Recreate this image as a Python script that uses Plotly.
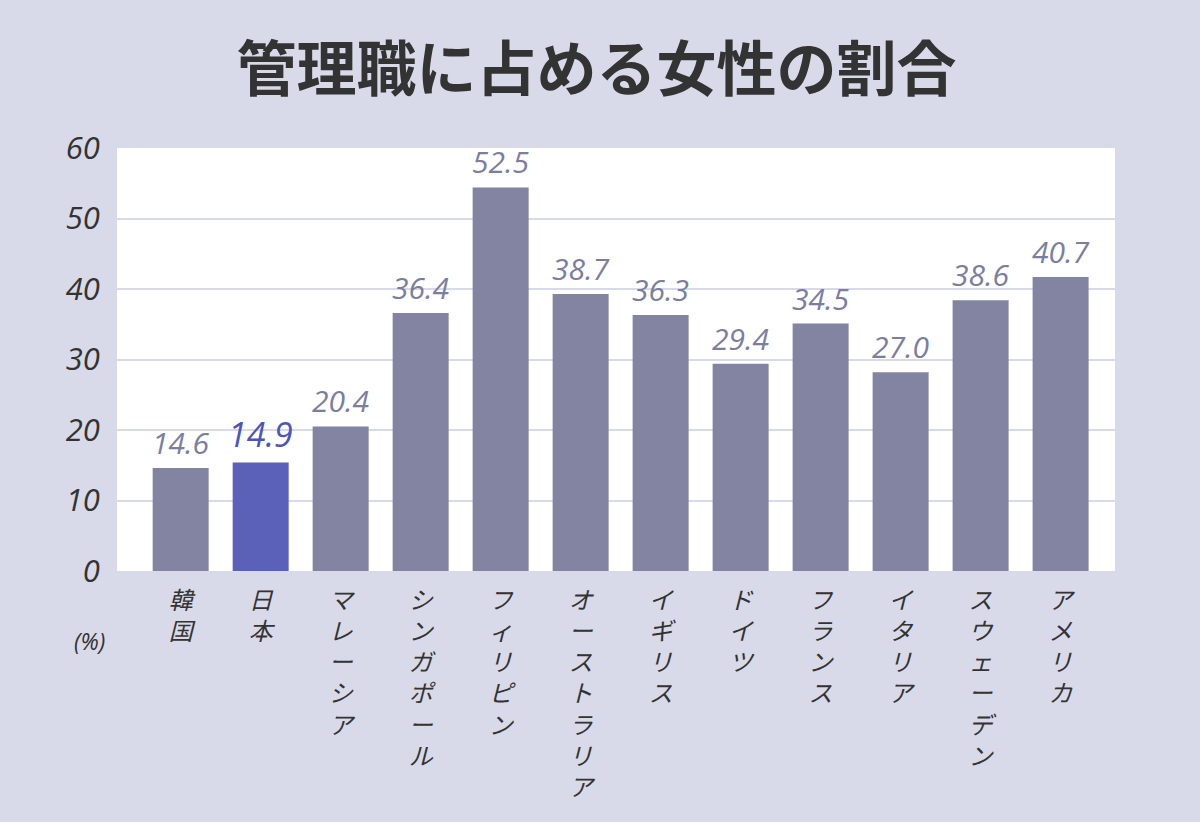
import plotly.graph_objects as go

# ---- data ----
countries = ["韓国", "日本", "マレーシア", "シンガポール", "フィリピン", "オーストラリア",
             "イギリス", "ドイツ", "フランス", "イタリア", "スウェーデン", "アメリカ"]
# bar heights as drawn in the picture (%)
bar_heights = [14.6, 15.4, 20.5, 36.6, 54.4, 39.3, 36.3, 29.4, 35.1, 28.2, 38.4, 41.7]
# value labels printed above the bars
value_labels = ["14.6", "14.9", "20.4", "36.4", "52.5", "38.7", "36.3", "29.4", "34.5", "27.0", "38.6", "40.7"]
highlight = "日本"
y_ticks = [0, 10, 20, 30, 40, 50, 60]

# ---- styles ----
BG = "#d9dae9"
BAR = "#8284a1"
BAR_HL = "#5b60b9"
LBL = "#7c7e9f"
LBL_HL = "#4f55b6"
TXT = "#333333"
NUM_FONT = "Open Sans, Noto Sans, sans-serif"
JP_FONT = "Noto Sans CJK JP, sans-serif"

colors = [BAR_HL if c == highlight else BAR for c in countries]

fig = go.Figure(go.Bar(
    x=countries, y=bar_heights, marker=dict(color=colors, line=dict(width=0)),
    hoverinfo="skip", showlegend=False,
))

for c, h, t in zip(countries, bar_heights, value_labels):
    hl = c == highlight
    fig.add_annotation(
        x=c, y=h, text=t, showarrow=False, yanchor="bottom", yshift=3,
        font=dict(family=NUM_FONT, size=34 if hl else 30, color=LBL_HL if hl else LBL, style="italic"),
    )

fig.add_annotation(
    xref="paper", yref="paper", x=-0.028, y=-0.165, text="(%)", showarrow=False,
    xanchor="center", yanchor="middle",
    font=dict(family=NUM_FONT, size=23, color=TXT, style="italic"),
)

fig.update_layout(
    width=1200, height=822,
    paper_bgcolor=BG, plot_bgcolor="#ffffff",
    margin=dict(l=117, r=85, t=148, b=251),
    bargap=0.3,
    title=dict(
        text="<b>管理職に占める女性の割合</b>", x=0.497, xanchor="center", y=0.915, yanchor="middle",
        font=dict(family=JP_FONT, size=60, color=TXT),
    ),
    xaxis=dict(
        range=[-0.796, 11.68], tickmode="array", tickvals=countries,
        ticktext=["<br>".join(list(c)) for c in countries],
        tickfont=dict(family=JP_FONT, size=24, color=TXT, style="italic"),
        ticks="outside", ticklen=8, tickcolor="rgba(0,0,0,0)",
        showgrid=False, showline=False, zeroline=False, fixedrange=True,
    ),
    yaxis=dict(
        range=[0, 60], tickmode="array", tickvals=y_ticks,
        tickfont=dict(family=NUM_FONT, size=31, color=TXT, style="italic"),
        ticks="outside", ticklen=10, tickcolor="rgba(0,0,0,0)",
        showgrid=True, gridcolor=BG, gridwidth=1.5,
        showline=False, zeroline=False, fixedrange=True,
    ),
)

fig.write_html("out.html")
